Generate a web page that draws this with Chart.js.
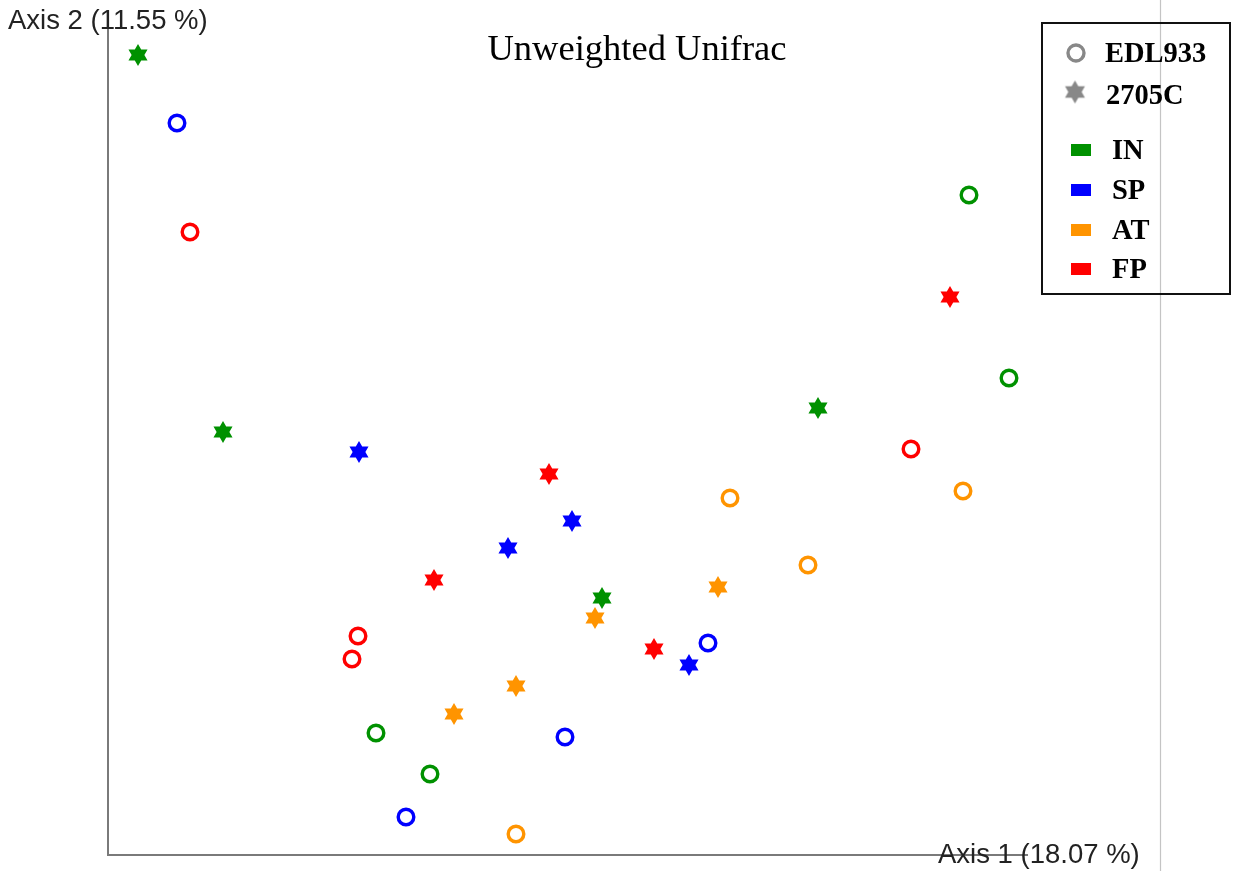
<!DOCTYPE html>
<html>
<head>
<meta charset="utf-8">
<title>Unweighted Unifrac</title>
<script src="https://cdn.jsdelivr.net/npm/chart.js@4/dist/chart.umd.min.js"></script>
<style>
  html, body { margin: 0; padding: 0; background: #ffffff; }
  #wrap { position: relative; width: 1233px; height: 871px; }
</style>
</head>
<body>
<div id="wrap"><canvas id="pcoa" width="1233" height="871"></canvas></div>
<script>
// PCoA coordinates (Axis 1, Axis 2), per sample site and strain
const sites = ['IN', 'SP', 'AT', 'FP'];
const strains = ['EDL933', '2705C'];
const siteColors = { IN: '#009100', SP: '#0000ff', AT: '#ff9400', FP: '#ff0000' };

const IN_EDL933_x = [0.861, 0.901, 0.268, 0.322];
const IN_EDL933_y = [0.660, 0.477, 0.122, 0.081];
const IN_2705C_x  = [0.030, 0.115, 0.710, 0.494];
const IN_2705C_y  = [0.800, 0.423, 0.447, 0.257];

const SP_EDL933_x = [0.069, 0.600, 0.457, 0.298];
const SP_EDL933_y = [0.732, 0.212, 0.118, 0.038];
const SP_2705C_x  = [0.251, 0.464, 0.400, 0.581];
const SP_2705C_y  = [0.403, 0.334, 0.307, 0.190];

const AT_EDL933_x = [0.622, 0.855, 0.700, 0.408];
const AT_EDL933_y = [0.357, 0.364, 0.290, 0.021];
const AT_2705C_x  = [0.610, 0.487, 0.408, 0.346];
const AT_2705C_y  = [0.268, 0.237, 0.169, 0.141];

const FP_EDL933_x = [0.082, 0.803, 0.250, 0.244];
const FP_EDL933_y = [0.623, 0.406, 0.219, 0.196];
const FP_2705C_x  = [0.842, 0.441, 0.326, 0.546];
const FP_2705C_y  = [0.558, 0.381, 0.275, 0.206];

const series = {
  IN: { EDL933: [IN_EDL933_x, IN_EDL933_y], '2705C': [IN_2705C_x, IN_2705C_y] },
  SP: { EDL933: [SP_EDL933_x, SP_EDL933_y], '2705C': [SP_2705C_x, SP_2705C_y] },
  AT: { EDL933: [AT_EDL933_x, AT_EDL933_y], '2705C': [AT_2705C_x, AT_2705C_y] },
  FP: { EDL933: [FP_EDL933_x, FP_EDL933_y], '2705C': [FP_2705C_x, FP_2705C_y] }
};

const title = 'Unweighted Unifrac';
const axis1Label = 'Axis 1 (18.07 %)';
const axis2Label = 'Axis 2 (11.55 %)';

// Filled six-pointed star sprite used as a point style
function starSprite(color, outer) {
  const size = Math.ceil(outer * 2 + 2);
  const c = document.createElement('canvas');
  c.width = size; c.height = size;
  const g = c.getContext('2d');
  const cx = size / 2, cy = size / 2, inner = outer * 0.58;
  g.beginPath();
  for (let i = 0; i < 12; i++) {
    const r = i % 2 === 0 ? outer : inner;
    const a = -Math.PI / 2 + i * Math.PI / 6;
    const px = cx + r * Math.cos(a), py = cy + r * Math.sin(a);
    if (i === 0) g.moveTo(px, py); else g.lineTo(px, py);
  }
  g.closePath();
  g.fillStyle = color;
  g.fill();
  return c;
}

const datasets = [];
sites.forEach(site => {
  strains.forEach(strain => {
    const [xs, ys] = series[site][strain];
    const isStar = strain === '2705C';
    datasets.push({
      label: site + ' ' + strain,
      data: xs.map((x, i) => ({ x: x, y: ys[i] })),
      pointStyle: isStar ? starSprite(siteColors[site], 11) : 'circle',
      pointRadius: isStar ? 11 : 7.8,
      pointHoverRadius: isStar ? 11 : 7.8,
      pointBorderWidth: isStar ? 0 : 3.4,
      pointBorderColor: siteColors[site],
      pointBackgroundColor: isStar ? siteColors[site] : 'rgba(0,0,0,0)',
      showLine: false,
      clip: false
    });
  });
});

// Axis lines, axis captions, title and the framed key
const decorations = {
  id: 'decorations',
  beforeDatasetsDraw(chart) {
    const ctx = chart.ctx;
    const xs = chart.scales.x, ys = chart.scales.y;
    const x0 = xs.getPixelForValue(0), y0 = ys.getPixelForValue(0);
    ctx.save();
    // light reference line on the right
    ctx.strokeStyle = '#c4c4c4';
    ctx.lineWidth = 1.2;
    ctx.beginPath();
    ctx.moveTo(1160.5, 0); ctx.lineTo(1160.5, chart.height);
    ctx.stroke();
    // axes
    ctx.strokeStyle = '#7a7a7a';
    ctx.lineWidth = 2;
    ctx.beginPath();
    ctx.moveTo(x0, 13); ctx.lineTo(x0, y0);
    ctx.lineTo(1028, y0);
    ctx.stroke();
    // axis captions
    ctx.fillStyle = '#222222';
    ctx.font = '27.5px "Liberation Sans", Arial, sans-serif';
    ctx.textBaseline = 'middle';
    ctx.textAlign = 'left';
    ctx.fillText(axis2Label, 8, 21);
    ctx.fillText(axis1Label, 938, 855);
    // title
    ctx.fillStyle = '#000000';
    ctx.font = '36.5px "Liberation Serif", "Times New Roman", serif';
    ctx.textAlign = 'center';
    ctx.fillText(title, 637, 50);
    ctx.restore();
  },
  afterDatasetsDraw(chart) {
    const ctx = chart.ctx;
    ctx.save();
    // key frame
    ctx.fillStyle = '#ffffff';
    ctx.fillRect(1042, 23, 188, 271);
    ctx.strokeStyle = '#111111';
    ctx.lineWidth = 2;
    ctx.strokeRect(1042, 23, 188, 271);
    ctx.strokeStyle = '#c4c4c4';
    ctx.lineWidth = 1.2;
    ctx.beginPath();
    ctx.moveTo(1160.5, 24); ctx.lineTo(1160.5, 293);
    ctx.stroke();
    // strain symbols
    ctx.strokeStyle = '#888888';
    ctx.lineWidth = 3.4;
    ctx.beginPath();
    ctx.arc(1076, 53, 8, 0, Math.PI * 2);
    ctx.stroke();
    ctx.drawImage(starSprite('#888888', 11.5), 1075 - 12.5, 92 - 12.5);
    ctx.fillStyle = '#000000';
    ctx.font = 'bold 28.5px "Liberation Serif", "Times New Roman", serif';
    ctx.textAlign = 'left';
    ctx.textBaseline = 'middle';
    ctx.fillText(strains[0], 1105, 55);
    ctx.fillText(strains[1], 1106, 97);
    // site swatches
    const rows = [150, 190, 230, 269];
    sites.forEach((site, i) => {
      ctx.fillStyle = siteColors[site];
      ctx.fillRect(1071, rows[i] - 6, 20, 12);
      ctx.fillStyle = '#000000';
      ctx.fillText(site, 1112, rows[i] + 2);
    });
    ctx.restore();
  }
};

new Chart(document.getElementById('pcoa'), {
  type: 'scatter',
  data: { datasets: datasets },
  options: {
    responsive: false,
    animation: false,
    devicePixelRatio: 1,
    layout: { padding: { left: 108, right: 73, top: 28, bottom: 16 } },
    plugins: { legend: { display: false }, tooltip: { enabled: false }, title: { display: false } },
    scales: {
      x: { type: 'linear', min: 0, max: 1.052, display: false },
      y: { type: 'linear', min: 0, max: 0.827, display: false }
    }
  },
  plugins: [decorations]
});
</script>
</body>
</html>
